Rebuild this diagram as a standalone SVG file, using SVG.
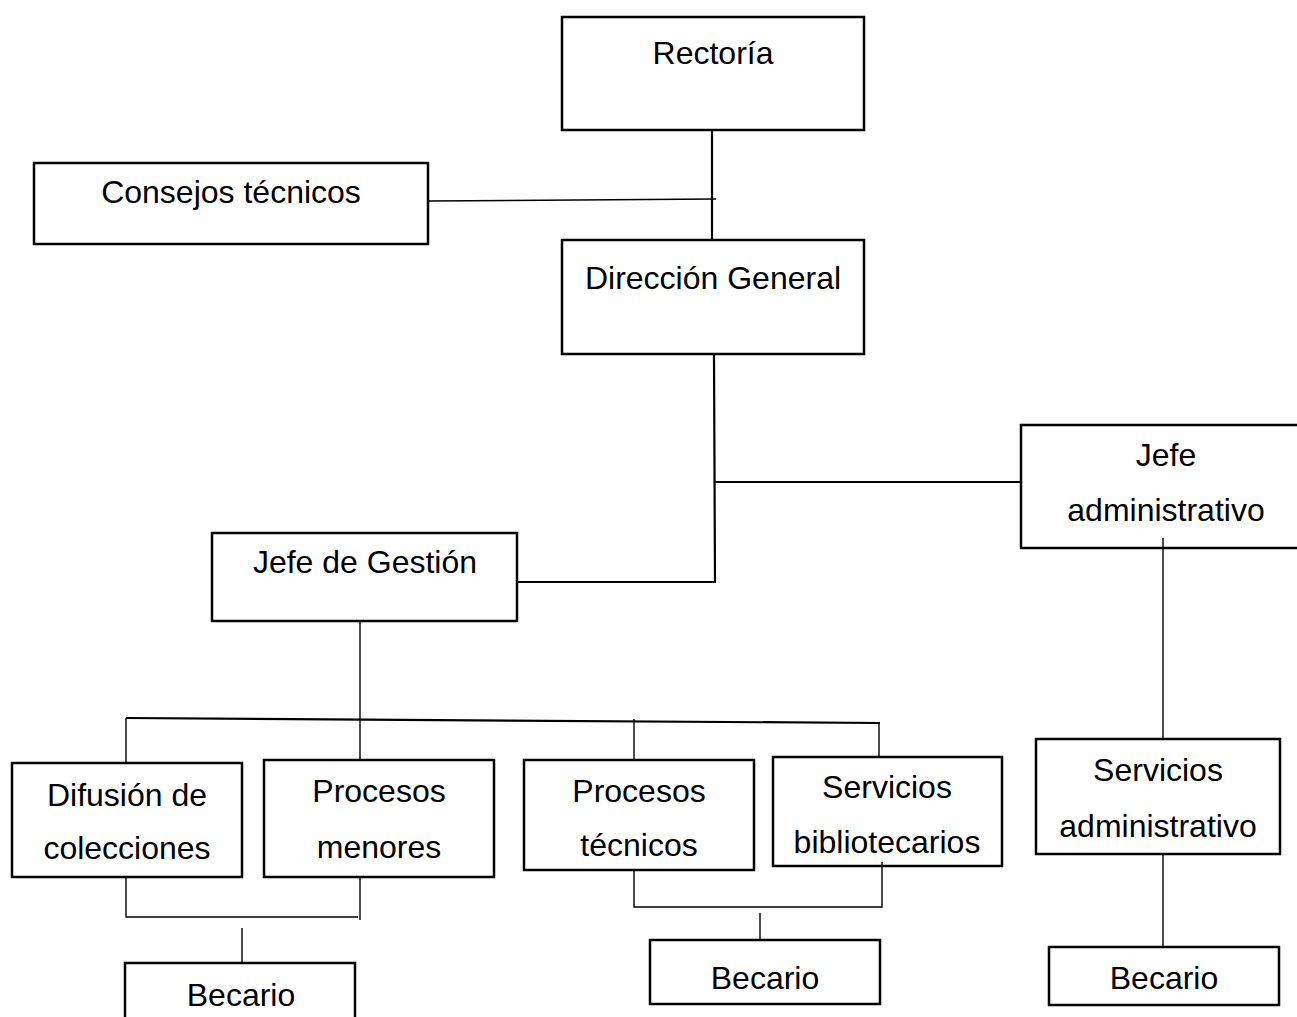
<svg xmlns="http://www.w3.org/2000/svg" width="1297" height="1017" viewBox="0 0 1297 1017">
<style>
.box{fill:#fff;stroke:#000;stroke-width:2.5}
.t{font-family:"Liberation Sans",Arial,sans-serif;font-size:32px;fill:#000;text-anchor:middle}
.thick{stroke:#000;stroke-width:2.2;fill:none}
.thin{stroke:#000;stroke-width:1.4;fill:none}
</style>
<rect width="1297" height="1017" fill="#fff"/>
<g id="rectoria"><rect class="box" x="562" y="17" width="302" height="113"/><text class="t" x="713" y="64">Rectoría</text></g>
<g id="consejos"><rect class="box" x="34" y="163" width="394" height="81"/><text class="t" x="231" y="203">Consejos técnicos</text></g>
<g id="direccion"><rect class="box" x="562" y="240" width="302" height="114"/><text class="t" x="713" y="289">Dirección General</text></g>
<g id="jefe-admin"><rect class="box" x="1021" y="425" width="280" height="123"/><text class="t" x="1166" y="466">Jefe</text><text class="t" x="1166" y="521">administrativo</text></g>
<g id="jefe-gestion"><rect class="box" x="212" y="533" width="305" height="88"/><text class="t" x="365" y="573">Jefe de Gestión</text></g>
<g id="difusion"><rect class="box" x="12" y="763" width="230" height="114"/><text class="t" x="127" y="806">Difusión de</text><text class="t" x="127" y="859">colecciones</text></g>
<g id="procesos-menores"><rect class="box" x="264" y="760" width="230" height="117"/><text class="t" x="379" y="802">Procesos</text><text class="t" x="379" y="858">menores</text></g>
<g id="procesos-tecnicos"><rect class="box" x="524" y="760" width="230" height="110"/><text class="t" x="639" y="802">Procesos</text><text class="t" x="639" y="856">técnicos</text></g>
<g id="servicios-bib"><rect class="box" x="773" y="757" width="229" height="109"/><text class="t" x="887" y="798">Servicios</text><text class="t" x="887" y="853">bibliotecarios</text></g>
<g id="servicios-adm"><rect class="box" x="1036" y="739" width="244" height="115"/><text class="t" x="1158" y="781">Servicios</text><text class="t" x="1158" y="837">administrativo</text></g>
<g id="becario-1"><rect class="box" x="125" y="963" width="230" height="60"/><text class="t" x="241" y="1006">Becario</text></g>
<g id="becario-2"><rect class="box" x="650" y="940" width="230" height="64"/><text class="t" x="765" y="989">Becario</text></g>
<g id="becario-3"><rect class="box" x="1049" y="947" width="230" height="58"/><text class="t" x="1164" y="989">Becario</text></g>
<g id="connectors">
<line class="thick" x1="712" y1="130" x2="712" y2="240"/>
<line class="thin" x1="428" y1="201" x2="716" y2="199"/>
<polyline class="thick" points="714,354 715,582 518,582"/>
<line class="thick" x1="715" y1="482" x2="1021" y2="482"/>
<line class="thin" x1="360" y1="621" x2="360" y2="760"/>
<line class="thick" x1="126" y1="718" x2="880" y2="723"/>
<line class="thin" x1="126" y1="718" x2="126" y2="763"/>
<line class="thin" x1="634" y1="719" x2="634" y2="760"/>
<line class="thin" x1="879" y1="723" x2="879" y2="757"/>
<line class="thin" x1="1163" y1="538" x2="1163" y2="739"/>
<line class="thin" x1="1163" y1="854" x2="1163" y2="947"/>
<polyline class="thin" points="126,877 126,917 358,917"/>
<line class="thin" x1="360" y1="877" x2="360" y2="920"/>
<line class="thin" x1="242" y1="928" x2="242" y2="963"/>
<polyline class="thin" points="634,870 634,907 882,907 882,862"/>
<line class="thin" x1="760" y1="913" x2="760" y2="940"/>
</g>
</svg>
